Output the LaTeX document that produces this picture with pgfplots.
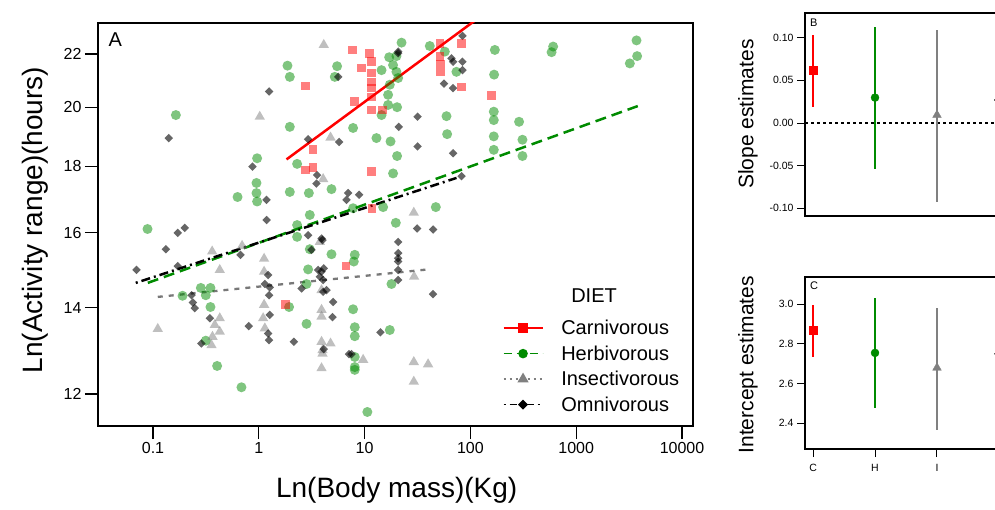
\documentclass[border=0pt]{standalone}
\usepackage{pgfplots}
\usepackage{pgfplotstable}
\pgfplotsset{compat=1.18}
\usepackage{fontspec}
\setmainfont{Liberation Sans}

\definecolor{grn}{RGB}{0,139,0}
\definecolor{insgray}{RGB}{128,128,128}
\definecolor{linegray}{RGB}{120,120,120}

% ln(activity range) against log10(body mass)
\pgfplotstableread{
lx ly
0.444 3.034
0.513 2.921
0.444 2.884
0.513 2.889
0.255 2.644
0.825 2.713
0.886 3.098
1.049 3.092
1.065 3.077
1.065 3.057
1.065 3.041
1.065 3.030
1.065 3.014
0.971 3.066
0.907 3.006
1.065 2.991
1.167 2.991
1.065 2.881
1.068 2.815
1.711 3.109
1.711 3.086
1.716 3.073
1.720 3.059
1.916 3.109
1.916 3.032
2.199 3.017
}\carn

\pgfplotstableread{
lx ly
-0.784 2.982
-1.052 2.779
-0.721 2.660
0.271 3.070
0.293 3.050
0.740 3.069
0.718 3.050
0.293 2.961
-0.016 2.905
0.362 2.895
-0.022 2.861
-0.201 2.836
-0.022 2.843
-0.016 2.828
0.293 2.845
0.473 2.843
0.687 2.850
0.482 2.804
0.362 2.786
0.362 2.765
0.482 2.743
0.687 2.734
0.466 2.707
0.451 2.681
-0.548 2.674
-0.457 2.674
-0.501 2.661
-0.457 2.640
0.286 2.640
0.451 2.610
-0.501 2.580
-0.394 2.535
-0.164 2.497
0.891 2.816
1.349 3.111
1.616 3.105
1.232 3.085
1.301 3.087
1.160 3.062
1.269 3.071
1.301 3.059
1.317 3.048
1.238 3.036
1.222 3.018
1.222 3.000
1.307 2.996
1.160 2.982
0.891 2.959
1.112 2.941
1.245 2.935
1.307 2.909
1.269 2.878
1.774 2.980
1.780 2.948
1.758 3.095
1.868 3.059
2.231 3.098
2.224 3.054
2.221 2.988
2.221 2.973
2.221 2.944
2.221 2.920
1.175 2.818
1.673 2.818
1.295 2.790
1.254 2.681
0.907 2.733
0.898 2.721
0.891 2.636
0.907 2.604
0.907 2.588
1.238 2.599
0.907 2.551
0.907 2.533
0.907 2.528
1.026 2.453
2.460 2.970
2.492 2.938
2.492 2.909
2.782 3.104
2.767 3.094
3.570 3.115
3.576 3.087
3.507 3.074
}\herb

\pgfplotstableread{
lx ly
-0.955 2.601
-0.441 2.739
-0.369 2.706
-0.158 2.749
0.009 2.979
0.050 2.726
0.050 2.703
0.050 2.644
0.041 2.620
0.057 2.602
-0.369 2.620
-0.416 2.608
-0.369 2.596
-0.438 2.587
-0.447 2.572
0.614 3.107
0.678 2.942
0.608 2.868
0.577 2.756
0.593 2.670
0.593 2.635
0.593 2.623
0.593 2.578
0.678 2.575
0.602 2.563
0.602 2.557
0.593 2.531
1.465 2.808
1.468 2.694
0.986 2.546
1.465 2.542
1.600 2.538
1.465 2.507
}\insect

\pgfplotstableread{
lx ly
-0.851 2.941
-0.766 2.772
-0.699 2.781
-0.879 2.743
-1.156 2.706
-0.766 2.713
-0.636 2.661
-0.624 2.648
-0.605 2.638
0.750 3.050
0.097 3.024
0.466 2.939
0.759 2.934
-0.060 2.890
0.551 2.875
0.545 2.860
0.073 2.831
0.844 2.843
0.829 2.831
0.073 2.795
0.466 2.768
0.593 2.762
0.602 2.759
-0.173 2.733
0.498 2.742
0.088 2.697
0.057 2.681
0.104 2.675
0.097 2.661
0.560 2.706
0.593 2.703
0.614 2.709
0.577 2.694
0.608 2.688
0.404 2.673
0.640 2.670
0.608 2.667
0.702 2.649
0.104 2.626
-0.463 2.620
-0.095 2.606
0.088 2.593
0.097 2.581
0.697 2.622
0.331 2.578
0.614 2.565
0.853 2.556
-0.542 2.575
0.948 2.840
1.317 3.095
1.317 3.092
1.925 3.123
1.821 3.083
1.836 3.077
1.925 3.077
1.925 3.062
1.751 3.038
1.836 3.030
1.500 2.979
1.323 2.961
1.500 2.926
1.836 2.914
1.916 2.873
1.496 2.780
1.647 2.778
1.317 2.756
1.317 2.736
1.317 2.727
1.317 2.721
1.317 2.706
1.317 2.688
1.647 2.663
1.150 2.595
0.876 2.556
}\omni

\begin{document}
\begin{tikzpicture}
\path[use as bounding box] (0pt,0pt) rectangle (995pt,509pt);

% ---- panel A ----
\begin{axis}[
  at={(98pt,83pt)}, anchor=south west,
  scale only axis, width=595pt, height=403pt,
  xmin=-1.52, xmax=4.104, ymin=2.428, ymax=3.146,
  xtick={-1,0,1,2,3,4}, xticklabels={0.1,1,10,100,1000,10000},
  ytick={2.4849,2.6391,2.7726,2.8904,2.9957,3.0910},
  yticklabels={12,14,16,18,20,22},
  xtick pos=lower, ytick pos=left, tick align=outside,
  major tick length=13pt,
  every tick/.style={black, line width=1.3pt},
  axis line style={line width=1.6pt},
  tick label style={font=\fontsize{16}{18}\selectfont},
  xlabel={Ln(Body mass)(Kg)}, ylabel={Ln(Activity range)(hours)},
  label style={font=\fontsize{28}{32}\selectfont},
  xlabel style={at={(axis description cs:0.502,-0.159)}, anchor=center},
  ylabel style={at={(axis description cs:-0.106,0.511)}, anchor=center},
  legend style={at={(axis description cs:0.68,0.347)}, anchor=north west,
    draw=none, fill=none, font=\fontsize{20}{22}\selectfont,
    row sep=5.5pt, column sep=16pt, inner sep=0pt},
  legend cell align=left,
  legend image code/.code={\draw[mark repeat=2, mark phase=2, #1]
    plot coordinates {(0pt,0pt) (19.5pt,0pt) (39pt,0pt)};},
]
\addplot[forget plot, only marks, mark=*, mark size=5pt,
  mark options={fill=grn, fill opacity=0.5, draw opacity=0}] table[x=lx,y=ly]{\herb};
\addplot[forget plot, only marks, mark=triangle*, mark size=6pt,
  mark options={fill=insgray, fill opacity=0.5, draw opacity=0}] table[x=lx,y=ly]{\insect};
\addplot[forget plot, only marks, mark=square*, mark size=3pt,
  mark options={rotate=45, fill=black, fill opacity=0.6, draw opacity=0}] table[x=lx,y=ly]{\omni};
\addplot[forget plot, only marks, mark=square*, mark size=4.3pt,
  mark options={fill=red, fill opacity=0.5, draw opacity=0}] table[x=lx,y=ly]{\carn};

% fitted lines
\addplot[forget plot, red, line width=2.5pt] coordinates {(0.262,2.903) (2.199,3.172)};
\addplot[forget plot, grn, line width=2.5pt, dash pattern=on 11pt off 6pt]
  coordinates {(-1.049,2.683) (3.582,2.998)};
\addplot[forget plot, linegray, line width=2.3pt, dash pattern=on 5pt off 6pt]
  coordinates {(-0.955,2.658) (1.600,2.707)};
\addplot[forget plot, black, line width=2.5pt, dash pattern=on 2pt off 4pt on 9pt off 4pt]
  coordinates {(-1.163,2.683) (1.869,2.870)};

\node[anchor=north west, font=\fontsize{20}{22}\selectfont]
  at (axis description cs:0.012,0.985) {A};

\addlegendimage{empty legend}
\addlegendentry{\hspace{10pt}\raisebox{7pt}{DIET}}
\addlegendimage{red, line width=1.5pt, mark=square*, mark size=4pt}
\addlegendentry{Carnivorous}
\addlegendimage{grn, line width=1.5pt, dash pattern=on 8pt off 5pt, mark=*, mark size=4pt, mark options={solid}}
\addlegendentry{Herbivorous}
\addlegendimage{insgray, line width=1.5pt, dash pattern=on 2pt off 4pt, mark=triangle*, mark size=5pt, mark options={solid}}
\addlegendentry{Insectivorous}
\addlegendimage{black, line width=1.5pt, dash pattern=on 2pt off 4pt on 7pt off 4pt, mark=square*, mark size=2.8pt, mark options={solid, rotate=45}}
\addlegendentry{Omnivorous}
\end{axis}

% ---- panel B ----
\begin{axis}[
  at={(805pt,293pt)}, anchor=south west,
  scale only axis, width=202pt, height=203pt,
  xmin=-0.13, xmax=3.13, ymin=-0.109, ymax=0.129,
  xtick=\empty,
  ytick={-0.1,-0.05,0,0.05,0.1},
  yticklabels={-0.10,-0.05,0.00,0.05,0.10},
  ytick pos=left, tick align=outside, major tick length=8pt,
  every tick/.style={black, line width=1pt},
  axis line style={line width=1.3pt},
  tick label style={font=\fontsize{10.5}{12}\selectfont},
  ylabel={Slope estimates},
  ylabel style={font=\fontsize{21}{24}\selectfont,
    at={(axis description cs:-0.282,0.502)}, anchor=center},
  error bars/error mark=none,
]
\addplot[black, line width=1.2pt, dash pattern=on 3pt off 3pt]
  coordinates {(-0.13,0) (3.13,0)};
\addplot[red, only marks, mark=square*, mark size=4pt,
  error bars/.cd, y dir=both, y explicit,
  error bar style={line width=2.5pt, red}]
  coordinates {(0,0.0615) += (0,0.0412) -= (0,0.0423)};
\addplot[grn, only marks, mark=*, mark size=4pt,
  error bars/.cd, y dir=both, y explicit,
  error bar style={line width=2.5pt, grn}]
  coordinates {(1,0.0298) += (0,0.0822) -= (0,0.0838)};
\addplot[insgray, only marks, mark=triangle*, mark size=5pt,
  error bars/.cd, y dir=both, y explicit,
  error bar style={line width=2.5pt, insgray}]
  coordinates {(2,0.0094) += (0,0.0992) -= (0,0.1020)};
\addplot[black, only marks, mark=square*, mark size=3.2pt, mark options={rotate=45},
  error bars/.cd, y dir=both, y explicit,
  error bar style={line width=2.5pt, black}]
  coordinates {(3,0.027) += (0,0.042) -= (0,0.042)};
\node[anchor=north west, font=\fontsize{11}{12}\selectfont]
  at (axis description cs:0.008,0.99) {B};
\end{axis}

% ---- panel C ----
\begin{axis}[
  at={(805pt,60pt)}, anchor=south west,
  scale only axis, width=202pt, height=172pt,
  xmin=-0.13, xmax=3.13, ymin=2.27, ymax=3.138,
  xtick={0,1,2,3}, xticklabels={C,H,I,O},
  ytick={2.4,2.6,2.8,3.0}, yticklabels={2.4,2.6,2.8,3.0},
  xtick pos=lower, ytick pos=left, tick align=outside, major tick length=8pt,
  every tick/.style={black, line width=1pt},
  axis line style={line width=1.3pt},
  tick label style={font=\fontsize{10.5}{12}\selectfont},
  xticklabel style={yshift=-4pt},
  ylabel={Intercept estimates},
  ylabel style={font=\fontsize{21}{24}\selectfont,
    at={(axis description cs:-0.282,0.49)}, anchor=center},
  error bars/error mark=none,
]
\addplot[red, only marks, mark=square*, mark size=4pt,
  error bars/.cd, y dir=both, y explicit,
  error bar style={line width=2.5pt, red}]
  coordinates {(0,2.869) += (0,0.128) -= (0,0.133)};
\addplot[grn, only marks, mark=*, mark size=4pt,
  error bars/.cd, y dir=both, y explicit,
  error bar style={line width=2.5pt, grn}]
  coordinates {(1,2.755) += (0,0.275) -= (0,0.279)};
\addplot[insgray, only marks, mark=triangle*, mark size=5pt,
  error bars/.cd, y dir=both, y explicit,
  error bar style={line width=2.5pt, insgray}]
  coordinates {(2,2.680) += (0,0.300) -= (0,0.314)};
\addplot[black, only marks, mark=square*, mark size=3.2pt, mark options={rotate=45},
  error bars/.cd, y dir=both, y explicit,
  error bar style={line width=2.5pt, black}]
  coordinates {(3,2.750) += (0,0.150) -= (0,0.150)};
\node[anchor=north west, font=\fontsize{11}{12}\selectfont]
  at (axis description cs:0.008,0.99) {C};
\end{axis}
\end{tikzpicture}
\end{document}
